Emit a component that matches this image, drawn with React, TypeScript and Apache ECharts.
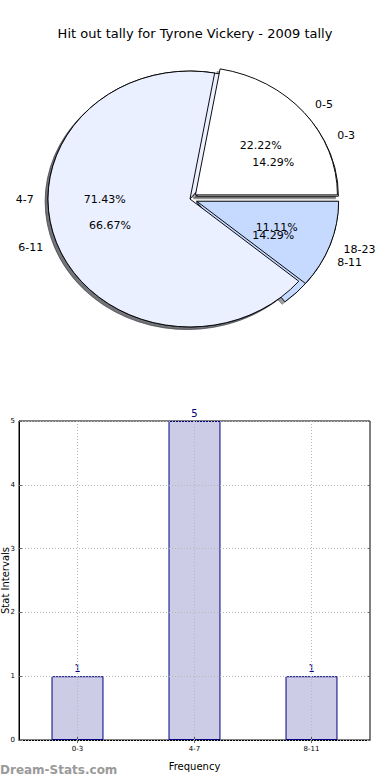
import React, { useEffect, useRef } from "react";
import * as echarts from "echarts";

// ---- data ----
const pie1Labels = ["0-3", "4-7", "8-11"];
const pie1Values = [1, 5, 1];
const pie2Labels = ["0-5", "6-11", "18-23"];
const pie2Values = [2, 6, 1];
const sliceColors = ["#FFFFFF", "#EAF0FF", "#C6DAFF"];
const explode = [0.05, 0, 0.05];

const barCategories = ["0-3", "4-7", "8-11"];
const barValues = [1, 5, 1];
const yTicks = [0, 1, 2, 3, 4, 5];

const TITLE = "Hit out tally for Tyrone Vickery - 2009 tally";
const FONT = "DejaVu Sans";

// pie layout
const CX = 190;
const CY = 199;
const RX = 142;
const RY = 128;

function shade(hex: string): string {
  const n = parseInt(hex.slice(1), 16);
  const r = Math.round(((n >> 16) & 255) * 0.3);
  const g = Math.round(((n >> 8) & 255) * 0.3);
  const b = Math.round((n & 255) * 0.3);
  return `rgba(${r},${g},${b},0.5)`;
}

function pieSeries(labels: string[], values: number[], layer: number) {
  const total = values.reduce((a, b) => a + b, 0);
  return {
    type: "custom",
    coordinateSystem: "none",
    silent: true,
    data: values.map((v, i) => ({ value: v, name: labels[i] })),
    renderItem: (params: any, api: any) => {
      const i = params.dataIndex;
      const v = api.value(0);
      let before = 0;
      for (let k = 0; k < i; k++) before += values[k];
      const a1 = (before / total) * 360;
      const a2 = ((before + v) / total) * 360;
      const mid = (((a1 + a2) / 2) * Math.PI) / 180;
      const e = explode[i];
      const ox = CX + e * RX * Math.cos(mid);
      const oy = CY - e * RY * Math.sin(mid);
      const shape = {
        cx: 0,
        cy: 0,
        r: RX,
        startAngle: (-a2 * Math.PI) / 180,
        endAngle: (-a1 * Math.PI) / 180,
        clockwise: true,
      };
      const sc = shade(sliceColors[i]);
      const pct = ((v / total) * 100).toFixed(2) + "%";
      const lx = ox + 1.1 * RX * Math.cos(mid);
      const ly = oy - 1.1 * RY * Math.sin(mid);
      const px = ox + 0.6 * RX * Math.cos(mid);
      const py = oy - 0.6 * RY * Math.sin(mid);
      return {
        type: "group",
        children: [
          {
            type: "sector",
            x: ox - 0.02 * RX,
            y: oy + 0.02 * RY,
            scaleY: RY / RX,
            shape,
            style: { fill: sc, stroke: sc, lineWidth: 1, strokeNoScale: true },
            z2: 0,
          },
          {
            type: "sector",
            x: ox,
            y: oy,
            scaleY: RY / RX,
            shape,
            style: {
              fill: sliceColors[i],
              stroke: "#000",
              lineWidth: 1,
              strokeNoScale: true,
            },
            z2: layer,
          },
          {
            type: "text",
            x: lx,
            y: ly,
            style: {
              text: labels[i],
              fill: "#000",
              font: `11px "${FONT}"`,
              align: Math.cos(mid) > 0 ? "left" : "right",
              verticalAlign: "middle",
            },
            z2: 20,
          },
          {
            type: "text",
            x: px,
            y: py,
            style: {
              text: pct,
              fill: "#000",
              font: `11px "${FONT}"`,
              align: "center",
              verticalAlign: "middle",
            },
            z2: 20,
          },
        ],
      };
    },
  };
}

const gridColor = "#b8b8b8";

const option: any = {
  animation: false,
  backgroundColor: "#fff",
  textStyle: { fontFamily: FONT },
  title: {
    text: TITLE,
    left: "center",
    top: 22,
    textStyle: {
      fontSize: 13,
      fontWeight: "normal",
      color: "#000",
      fontFamily: FONT,
    },
  },
  graphic: [
    {
      type: "text",
      left: 0,
      top: 764,
      style: {
        text: "Dream-Stats.com",
        fill: "#9a9a9a",
        font: `bold 12px "${FONT}"`,
      },
    },
  ],
  grid: {
    left: 19,
    right: 20,
    top: 421,
    bottom: 40,
    containLabel: false,
    outerBoundsMode: "none",
    show: true,
    borderColor: "#000",
    borderWidth: 1,
    backgroundColor: "transparent",
  },
  xAxis: [
    {
      type: "category",
      data: barCategories,
      position: "bottom",
      axisLine: { show: true, lineStyle: { color: "#000", width: 1 } },
      axisTick: {
        show: true,
        inside: true,
        length: 3,
        alignWithLabel: true,
        lineStyle: { color: "#666" },
      },
      axisLabel: { fontSize: 7, color: "#000", margin: 5, fontFamily: FONT },
      name: "Frequency",
      nameLocation: "middle",
      nameGap: 21,
      nameMoveOverlap: false,
      nameTextStyle: { fontSize: 10, color: "#000", fontFamily: FONT },
      splitLine: { show: false },
    },
    {
      type: "category",
      data: barCategories,
      position: "top",
      axisLine: { show: false },
      axisTick: {
        show: true,
        inside: true,
        length: 3,
        alignWithLabel: true,
        lineStyle: { color: "#666" },
      },
      axisLabel: { show: false },
      splitLine: { show: false },
    },
  ],
  yAxis: [
    {
      type: "value",
      min: yTicks[0],
      max: yTicks[yTicks.length - 1],
      interval: 1,
      z: 5,
      axisLine: { show: true, lineStyle: { color: "#000", width: 1 } },
      axisTick: { show: true, inside: true, length: 3, lineStyle: { color: "#666" } },
      axisLabel: { fontSize: 7, color: "#000", margin: 4, fontFamily: FONT },
      splitLine: {
        show: true,
        lineStyle: { color: gridColor, type: [1, 2], width: 1 },
      },
      name: "Stat Intervals",
      nameLocation: "middle",
      nameRotate: 90,
      nameGap: 9,
      nameMoveOverlap: false,
      nameTextStyle: { fontSize: 10, color: "#000", fontFamily: FONT },
    },
    {
      type: "value",
      position: "right",
      min: yTicks[0],
      max: yTicks[yTicks.length - 1],
      interval: 1,
      axisLine: { show: false },
      axisTick: { show: true, inside: true, length: 3, lineStyle: { color: "#666" } },
      axisLabel: { show: false },
      splitLine: { show: false },
    },
  ],
  series: [
    pieSeries(pie1Labels, pie1Values, 1),
    pieSeries(pie2Labels, pie2Values, 2),
    {
      type: "bar",
      xAxisIndex: 0,
      yAxisIndex: 0,
      data: barValues,
      barWidth: "44.4%",
      itemStyle: {
        color: "rgba(0,0,128,0.2)",
        borderColor: "#000080",
        borderWidth: 1,
      },
      label: {
        show: true,
        position: "top",
        distance: 3,
        color: "#000080",
        fontSize: 10,
        fontFamily: FONT,
      },
      markLine: {
        silent: true,
        symbol: "none",
        label: { show: false },
        lineStyle: { color: gridColor, type: [1, 2], width: 1 },
        data: barCategories.map((c) => ({ xAxis: c })),
      },
    },
  ],
};

export default function App() {
  const ref = useRef<HTMLDivElement>(null);
  useEffect(() => {
    if (!ref.current) return;
    const chart = echarts.init(ref.current, null, { renderer: "svg" });
    chart.setOption(option);
    return () => chart.dispose();
  }, []);
  return (
    <div
      ref={ref}
      style={{ position: "absolute", left: 0, top: 0, width: 390, height: 780 }}
    />
  );
}
